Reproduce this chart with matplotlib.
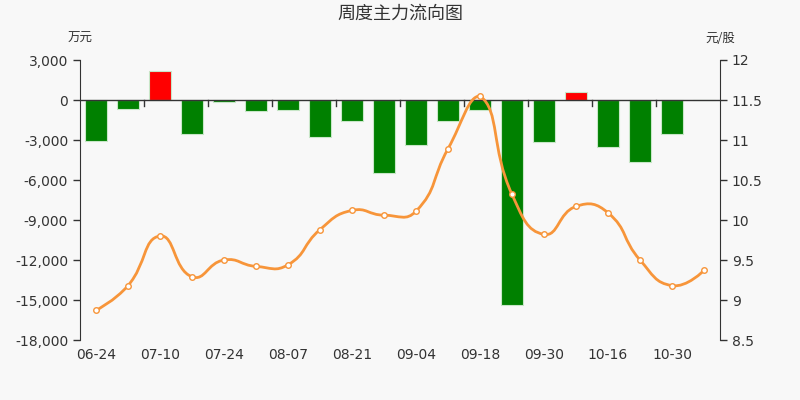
import matplotlib
matplotlib.use("Agg")
import matplotlib.pyplot as plt
from matplotlib.path import Path
from matplotlib.patches import PathPatch
import numpy as np

plt.rcParams['font.family'] = ['DejaVu Sans', 'Noto Sans CJK SC']

dates = ["06-24", "07-03", "07-10", "07-17", "07-24", "07-31", "08-07", "08-14",
         "08-21", "08-28", "09-04", "09-11", "09-18", "09-25", "09-30", "10-09",
         "10-16", "10-23", "10-30", "11-06"]
flow = [-3100, -650, 2200, -2575, -125, -800, -750, -2800, -1575, -5475,
        -3350, -1575, -725, -15400, -3125, 600, -3550, -4675, -2550, -30]
price = [8.87, 9.18, 9.80, 9.29, 9.50, 9.42, 9.44, 9.88, 10.12, 10.06,
         10.11, 10.89, 11.55, 10.32, 9.82, 10.17, 10.09, 9.50, 9.18, 9.37]

left_ticks = [3000, 0, -3000, -6000, -9000, -12000, -15000, -18000]
right_ticks = [12, 11.5, 11, 10.5, 10, 9.5, 9, 8.5]

BG = "#f8f8f8"
TXT = "#333333"
AX = "#333333"

fig = plt.figure(figsize=(8, 4), dpi=100, facecolor=BG)
ax = fig.add_axes([0.1, 0.15, 0.8, 0.7])
ax.set_facecolor(BG)
n = len(dates)
x = np.arange(n)
colors = ["#ff0000" if v > 0 else "#008000" for v in flow]
ax.bar(x, flow, width=0.69, color=colors, edgecolor="#c8e6c8", linewidth=0.8, zorder=2)
ax.set_xlim(-0.5, n - 0.5)
ax.set_ylim(-18000, 3000)
ax.set_yticks(left_ticks)
ax.set_yticklabels([f"{v:,}" for v in left_ticks])
ax.axhline(0, color=AX, linewidth=1, zorder=3)
for s in ["top", "right", "bottom"]:
    ax.spines[s].set_visible(False)
ax.spines["left"].set_color(AX)
ax.tick_params(axis="y", colors=AX, labelcolor=TXT, labelsize=10, length=5, width=1)
ax.set_xticks(x[::2])
ax.set_xticklabels(dates[::2])
ax.tick_params(axis="x", length=0, labelsize=10, labelcolor=TXT, pad=6)
# tick marks on zero line at boundaries
for b in range(2, n, 2):
    ax.plot([b - 0.5, b - 0.5], [0, -420], color=AX, linewidth=1, zorder=3)

ax2 = ax.twinx()
ax2.set_ylim(8.5, 12)
ax2.set_yticks(right_ticks)
ax2.set_yticklabels([f"{v:g}" for v in right_ticks])
for s in ["top", "left", "bottom"]:
    ax2.spines[s].set_visible(False)
ax2.spines["right"].set_color(AX)
ax2.tick_params(axis="y", colors=AX, labelcolor=TXT, labelsize=10, length=5, width=1)

# echarts(v4)-like smooth curve, computed in pixel-like scale
sx, sy = 32.0, 80.0
P = np.column_stack([x * sx, np.array(price) * sy])
pmin = P.min(axis=0)
pmax = P.max(axis=0)
smooth = 0.5
cin = [P[0].copy()]
cout = [P[0].copy()]
for i in range(1, n):
    cur = P[i]
    if i == n - 1:
        cin.append(cur.copy()); cout.append(cur.copy())
        continue
    prev, nxt = P[i - 1], P[i + 1]
    v = (nxt - prev) * smooth
    d0 = np.linalg.norm(cur - prev)
    d1 = np.linalg.norm(nxt - cur)
    r = d1 / (d0 + d1)
    a = np.clip(cur - v * (1 - r), pmin, pmax)
    b = np.clip(cur + v * r, pmin, pmax)
    cin.append(a); cout.append(b)
verts = [tuple(P[0])]
codes = [Path.MOVETO]
for i in range(n - 1):
    verts += [tuple(cout[i]), tuple(cin[i + 1]), tuple(P[i + 1])]
    codes += [Path.CURVE4] * 3
verts = np.array(verts, dtype=float)
verts[:, 0] /= sx
verts[:, 1] /= sy
path = Path(verts, codes)
ax2.add_patch(PathPatch(path, facecolor="none", edgecolor="#f7953a", linewidth=2, zorder=4))
ax2.plot(x, price, linestyle="none", marker="o", markersize=4, markerfacecolor="white",
         markeredgecolor="#f7953a", markeredgewidth=1, zorder=5)

fig.text(0.5, 0.965, "周度主力流向图", ha="center", va="center", fontsize=13,
         color=TXT, family=["Noto Sans CJK SC", "DejaVu Sans"])
fig.text(0.1, 0.903, "万元", ha="center", va="center", fontsize=9,
         color=TXT, family=["Noto Sans CJK SC", "DejaVu Sans"])
fig.text(0.9, 0.903, "元/股", ha="center", va="center", fontsize=9,
         color=TXT, family=["Noto Sans CJK SC", "DejaVu Sans"])

fig.savefig("out.png", dpi=100, facecolor=BG)
